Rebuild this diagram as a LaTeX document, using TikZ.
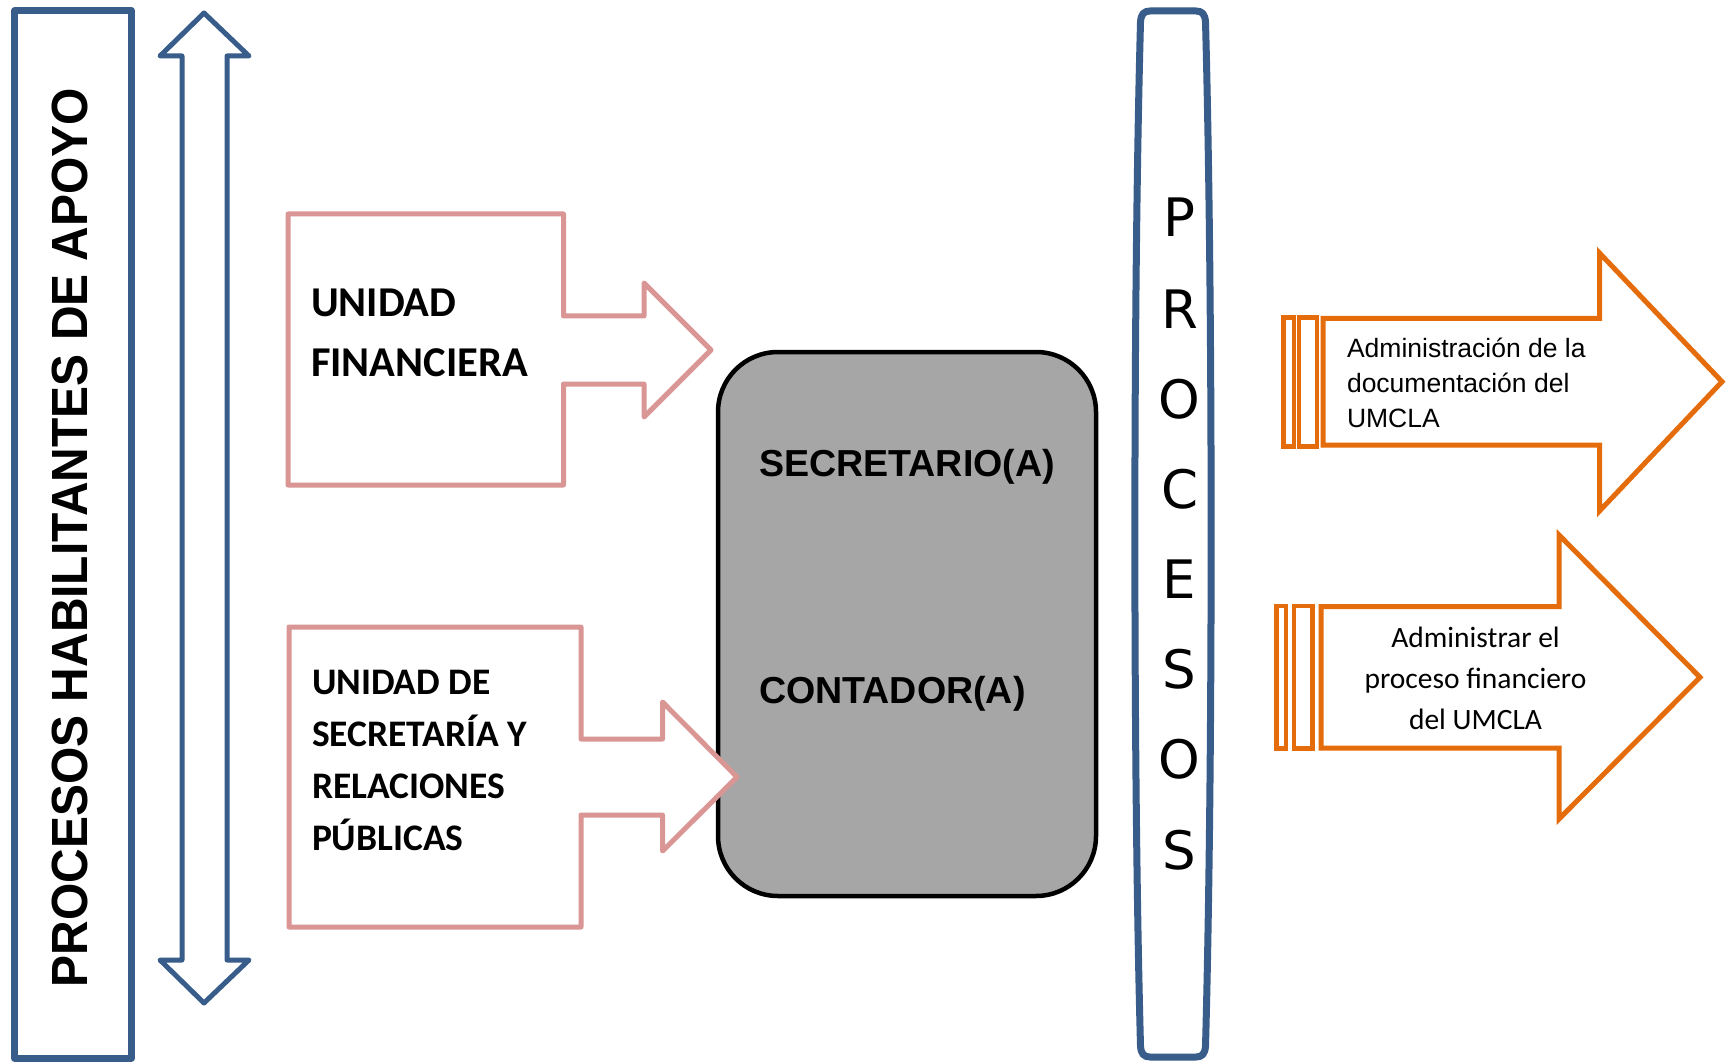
\documentclass[tikz,border=0pt]{standalone}
\usepackage{fontspec}
\newfontfamily\carlito{Carlito}
\newfontfamily\libsans{Liberation Sans}
\newfontfamily\dejavu{DejaVu Sans}
\definecolor{bluel}{RGB}{56,93,138}
\definecolor{pinkl}{RGB}{217,150,148}
\definecolor{orangel}{RGB}{228,108,10}
\definecolor{grayf}{RGB}{166,166,166}
\tikzset{
  bluebox/.style={draw=bluel,line width=7pt,line join=round},
  bluearrow/.style={draw=bluel,line width=5pt,line join=round},
  pinkarrow/.style={draw=pinkl,fill=white,line width=5pt,line join=round},
  orangearrow/.style={draw=orangel,fill=white,line width=5pt,line join=miter},
  orangestripe/.style={draw=orangel,fill=white,line width=4.5pt},
  graybox/.style={draw=black,fill=grayf,line width=4.5pt,rounded corners=60pt},
  txt/.style={inner sep=0pt,outer sep=0pt,text=black},
  pinktxt/.style={txt,anchor=base west,font=\carlito\bfseries\fontsize{42.5}{50}\selectfont},
  pinktxtb/.style={txt,anchor=base west,font=\carlito\bfseries\fontsize{37.5}{45}\selectfont},
  graytxt/.style={txt,anchor=base west,font=\libsans\bfseries\fontsize{37.6}{45}\selectfont},
  letter/.style={txt,anchor=base,font=\dejavu\fontsize{53}{60}\selectfont},
  otxta/.style={txt,anchor=base west,font=\libsans\fontsize{26.5}{32}\selectfont},
  otxtb/.style={txt,anchor=base,font=\carlito\fontsize{29.5}{35}\selectfont},
}
\begin{document}
\begin{tikzpicture}[x=1pt,y=-1pt]
\useasboundingbox (0,0) rectangle (1728,1064);
\fill[white] (0,0) rectangle (1728,1064);

% left box with rotated title
\draw[bluebox] (14.5,11) rectangle (131.5,1058);
\node[txt,rotate=90] (title) at (69.5,537.5)
  {\resizebox{899pt}{35.5pt}{\libsans\bfseries PROCESOS HABILITANTES DE APOYO}};

% double arrow
\draw[bluearrow] (204,13) -- (249,56) -- (227,56) -- (227,960) -- (249,960)
  -- (204,1003) -- (160,960) -- (182,960) -- (182,56) -- (160,56) -- cycle;

% central grey box
\draw[graybox] (718,352) rectangle (1096,896);
\node[graytxt] (secr) at (759,476) {SECRETARIO(A)};
\node[graytxt] (cont) at (759,703) {CONTADOR(A)};

% pink arrow 1
\draw[pinkarrow] (288,214) -- (563.5,214) -- (563.5,316) -- (644,316) -- (644,283)
  -- (711,350) -- (644,417) -- (644,384) -- (563.5,384) -- (563.5,485) -- (288,485) -- cycle;
\node[pinktxt] (uf1) at (311,316.7) {UNIDAD};
\node[pinktxt] (uf2) at (311,376.7) {FINANCIERA};

% pink arrow 2
\draw[pinkarrow] (289,627) -- (581,627) -- (581,739) -- (662.5,739) -- (662.5,702)
  -- (737,777) -- (662.5,851) -- (662.5,815) -- (581,815) -- (581,927) -- (289,927) -- cycle;
\node[pinktxtb] (us1) at (312,694) {UNIDAD DE};
\node[pinktxtb] (us2) at (312,746.5) {SECRETARÍA Y};
\node[pinktxtb] (us3) at (312,798.5) {RELACIONES};
\node[pinktxtb] (us4) at (312,850.5) {PÚBLICAS};

% PROCESOS box
\draw[bluebox] (1150,11) -- (1196,11) .. controls (1202,11) and (1205,14) .. (1205.5,22)
  .. controls (1213,300) and (1213,770) .. (1205.5,1046)
  .. controls (1205,1054) and (1202,1057) .. (1196,1057) -- (1150,1057)
  .. controls (1144,1057) and (1141,1054) .. (1140.5,1046)
  .. controls (1133,770) and (1133,300) .. (1140.5,22)
  .. controls (1141,14) and (1144,11) .. (1150,11) -- cycle;
\node[letter] (l1) at (1179.5,237) {P};
\node[letter] (l2) at (1179.5,328) {R};
\node[letter] (l3) at (1179.5,418) {O};
\node[letter] (l4) at (1179.5,508) {C};
\node[letter] (l5) at (1179.5,598) {E};
\node[letter] (l6) at (1179.5,688) {S};
\node[letter] (l7) at (1179.5,778) {O};
\node[letter] (l8) at (1179.5,869) {S};

% orange arrow 1
\draw[orangestripe] (1283.5,317.5) rectangle (1294,446.5);
\draw[orangestripe] (1299,317.5) rectangle (1317,446.5);
\draw[orangearrow] (1323,318.5) -- (1599.5,318.5) -- (1599.5,253) -- (1722,381.7)
  -- (1599.5,511) -- (1599.5,445) -- (1323,445) -- cycle;
\node[otxta] (oa1) at (1347,357) {Administración de la};
\node[otxta] (oa2) at (1347,392.5) {documentación del};
\node[otxta] (oa3) at (1347,427) {UMCLA};

% orange arrow 2
\draw[orangestripe] (1276.5,606) rectangle (1286,748.5);
\draw[orangestripe] (1294,606) rectangle (1312.5,748.5);
\draw[orangearrow] (1321,606.7) -- (1559,606.7) -- (1559,535) -- (1700,677.3)
  -- (1559,819) -- (1559,748) -- (1321,748) -- cycle;
\node[otxtb] (ob1) at (1475.5,647) {Administrar el};
\node[otxtb] (ob2) at (1475.5,688) {proceso financiero};
\node[otxtb] (ob3) at (1475.5,729) {del UMCLA};
\end{tikzpicture}
\end{document}
